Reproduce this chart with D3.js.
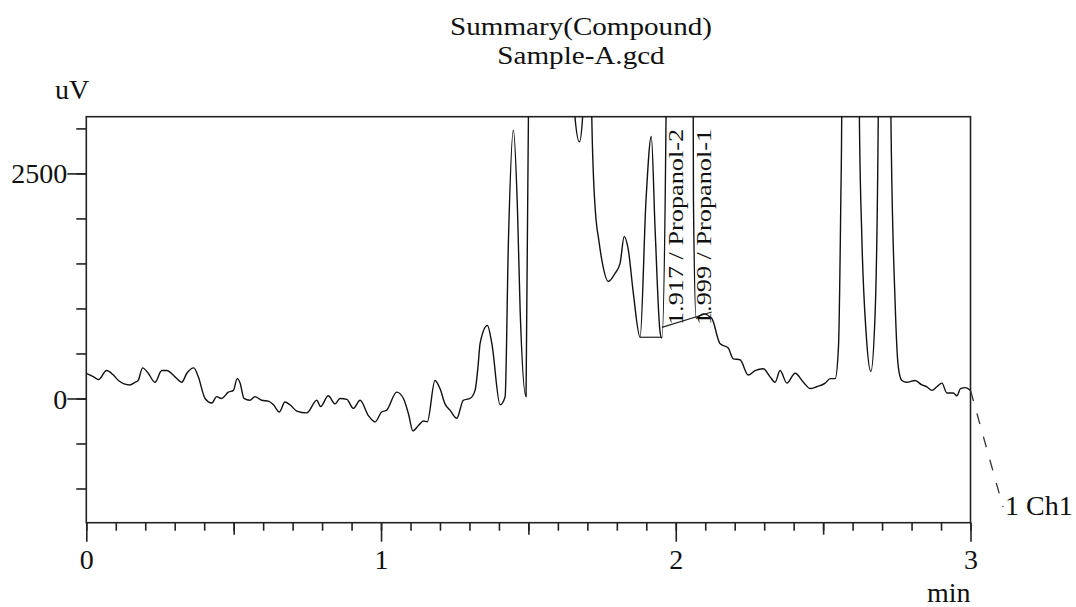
<!DOCTYPE html>
<html><head><meta charset="utf-8">
<script src="https://cdn.jsdelivr.net/npm/d3@7"></script>
<style>body{margin:0;background:#fff}svg{display:block}</style>
</head><body>
<svg id="c" width="1076" height="607"></svg>
<script>
// ---- data (retention time in min, signal in uV) ----
const times = [0.000,0.013,0.030,0.041,0.069,0.092,0.109,0.148,0.165,0.176,0.191,0.210,0.233,0.256,0.273,0.301,0.324,0.341,0.365,0.380,0.403,0.426,0.442,0.459,0.482,0.499,0.512,0.522,0.535,0.555,0.572,0.595,0.618,0.635,0.655,0.674,0.691,0.714,0.748,0.782,0.795,0.821,0.844,0.861,0.884,0.906,0.929,0.957,0.980,1.002,1.019,1.053,1.076,1.093,1.108,1.127,1.144,1.157,1.183,1.200,1.217,1.234,1.257,1.279,1.302,1.319,1.330,1.336,1.361,1.376,1.404,1.421,1.432,1.449,1.463,1.472,1.492,1.500,1.505,1.650,1.658,1.673,1.684,1.690,1.710,1.715,1.727,1.732,1.737,1.749,1.771,1.794,1.811,1.825,1.839,1.856,1.879,1.899,1.917,1.930,1.947,1.953,1.967,1.972,2.055,2.060,2.069,2.093,2.122,2.150,2.178,2.195,2.218,2.246,2.269,2.297,2.320,2.337,2.354,2.377,2.405,2.433,2.456,2.478,2.507,2.524,2.541,2.552,2.560,2.563,2.567,2.619,2.623,2.631,2.646,2.662,2.676,2.687,2.691,2.726,2.730,2.744,2.755,2.767,2.784,2.812,2.835,2.852,2.869,2.886,2.903,2.920,2.942,2.954,2.966,2.983,3.000];
const values = [280,260,230,210,310,260,200,150,180,200,340,280,180,310,310,240,180,280,340,240,0,-50,20,0,70,90,220,170,0,-20,20,-20,-30,-70,-150,-40,-70,-140,-160,-20,-90,30,-60,0,-10,-110,-20,-190,-260,-150,-130,70,0,-170,-360,-300,-250,-260,200,110,-60,-130,-220,-20,0,90,390,610,810,610,-70,20,1720,2980,2090,980,20,3100,8000,8000,3130,2850,3130,8000,8000,3130,2090,1910,1800,1540,1300,1390,1500,1800,1650,1170,680,2200,2910,1870,730,670,3130,8000,8000,2200,890,940,890,610,560,440,430,260,310,330,240,180,310,170,280,180,110,130,170,220,220,570,2200,3130,8000,8000,3130,1830,720,300,910,3130,8000,8000,3130,1090,350,200,180,200,150,130,90,130,170,60,60,30,110,120,90];

const peakTimes = [1.917, 1.999];
const peakNames = ["Propanol-2", "Propanol-1"];
const baseStartT = [1.879, 1.953];
const baseEndT   = [1.953, 2.122];
const baseStartV = [680, 790];
const baseEndV   = [680, 960];

const yTickValues  = [-1000,-500,0,500,1000,1500,2000,2500,3000];
const yLabelValues = [0, 2500];
const xMinorTicks  = d3.range(0, 31).map(i => i / 10);
const xHalfTicks   = [0.5, 1.5, 2.5];
const xLabelValues = [0, 1, 2, 3];
const titleLines = ["Summary(Compound)", "Sample-A.gcd"];
const yUnit = "uV", xUnit = "min", channelName = "1 Ch1";

// ---- layout ----
const L = 86.3, R = 970.5, T = 116.7, B = 522.7;
const FONT = "'Liberation Serif','Times New Roman',serif";
const svg = d3.select("#c");
const x = d3.scaleLinear().domain([0, 3]).range([L, R]);
const y = d3.scaleLinear().domain([-1380, 3130]).range([B, T]);

// title
svg.append("g").selectAll("text").data(titleLines).join("text")
  .attr("transform", (d, i) => `translate(581,${35 + i * 28.5}) scale(1.12,1)`)
  .attr("text-anchor", "middle").attr("font-family", FONT).attr("font-size", 26)
  .attr("fill", "#111").text(d => d);

// y axis
const yMinor = svg.append("g").attr("transform", `translate(${L},0)`)
  .call(d3.axisLeft(y).tickValues(yTickValues).tickSize(10).tickFormat(""));
const yMajor = svg.append("g").attr("transform", `translate(${L},0)`)
  .call(d3.axisLeft(y).tickValues(yLabelValues).tickSize(19).tickPadding(0).tickFormat(d3.format("d")));
// x axis
const xMin = svg.append("g").attr("transform", `translate(0,${B})`)
  .call(d3.axisBottom(x).tickValues(xMinorTicks).tickSize(8).tickFormat(""));
const xHalf = svg.append("g").attr("transform", `translate(0,${B})`)
  .call(d3.axisBottom(x).tickValues(xHalfTicks).tickSize(12).tickFormat(""));
const xMaj = svg.append("g").attr("transform", `translate(0,${B})`)
  .call(d3.axisBottom(x).tickValues(xLabelValues).tickSize(19).tickPadding(5).tickFormat(d3.format("d")));

[yMinor, yMajor, xMin, xHalf, xMaj].forEach(g => {
  g.select(".domain").remove();
  g.selectAll("line").attr("stroke", "#222").attr("stroke-width", 1.6);
  g.selectAll("text").attr("font-family", FONT).attr("font-size", 28).attr("fill", "#111");
});
yMajor.selectAll("text").attr("x", -19).attr("dy", "0.34em");
xMaj.selectAll("text").attr("dy", "0.8em");

// frame
svg.append("rect").attr("x", L).attr("y", T).attr("width", R - L).attr("height", B - T)
  .attr("fill", "none").attr("stroke", "#222").attr("stroke-width", 1.6);

// unit labels
svg.append("text").attr("x", 72).attr("y", 99).attr("text-anchor", "middle")
  .attr("font-family", FONT).attr("font-size", 28).attr("fill", "#111").text(yUnit);
svg.append("text").attr("x", R).attr("y", 602).attr("text-anchor", "end")
  .attr("font-family", FONT).attr("font-size", 28).attr("fill", "#111").text(xUnit);

// clip
svg.append("clipPath").attr("id", "plotClip").append("rect")
  .attr("x", L).attr("y", T).attr("width", R - L).attr("height", B - T);

const pts = times.map((t, i) => [t, values[i]]);
const line = d3.line().x(d => x(d[0])).y(d => y(d[1])).curveMonotoneX;
const plot = svg.append("g").attr("clip-path", "url(#plotClip)");

// integration baselines
plot.selectAll("line.base").data(peakTimes).join("line").attr("class", "base")
  .attr("x1", (d, i) => x(baseStartT[i])).attr("y1", (d, i) => y(baseStartV[i]))
  .attr("x2", (d, i) => x(baseEndT[i])).attr("y2", (d, i) => y(baseEndV[i]))
  .attr("stroke", "#222").attr("stroke-width", 1.2);

plot.append("path").datum(pts)
  .attr("d", d3.line().x(d => x(d[0])).y(d => y(d[1])).curve(d3.curveMonotoneX))
  .attr("fill", "none").attr("stroke", "#111").attr("stroke-width", 1.4)
  .attr("stroke-linejoin", "round");

// peak labels (rotated)
const labelDx = [32, 36];
svg.append("g").selectAll("text").data(peakTimes).join("text")
  .attr("transform", (d, i) => `translate(${x(d) + labelDx[i]},325) rotate(-90) scale(1.25,1)`)
  .attr("font-family", FONT).attr("font-size", 21).attr("fill", "#111")
  .text((d, i) => `${d3.format(".3f")(d)} / ${peakNames[i]}`);

// channel leader + name
const endT = times[times.length - 1], endV = values[values.length - 1];
svg.append("line").attr("x1", x(endT)).attr("y1", y(endV)).attr("x2", 1003).attr("y2", 507)
  .attr("stroke", "#333").attr("stroke-width", 1.3).attr("stroke-dasharray", "11,13");
svg.append("text").attr("x", 1005).attr("y", 515)
  .attr("font-family", FONT).attr("font-size", 28).attr("fill", "#111").text(channelName);
</script>
</body></html>
